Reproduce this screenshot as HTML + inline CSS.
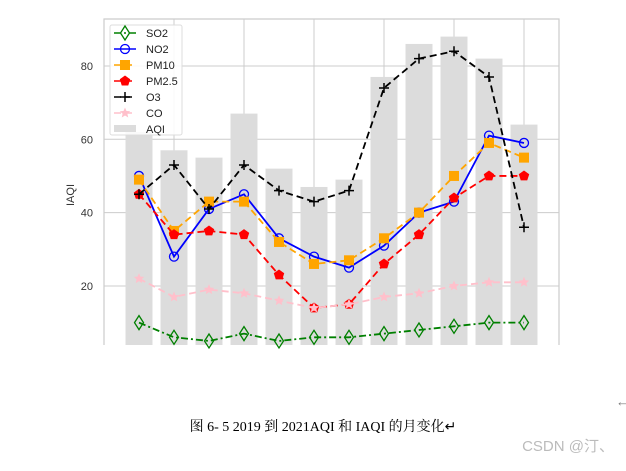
<!DOCTYPE html>
<html><head><meta charset="utf-8"><style>
body{margin:0;background:#fff;width:626px;height:466px;overflow:hidden;font-family:"Liberation Sans",sans-serif}
</style></head><body>
<svg id="chart" width="626" height="466" xmlns="http://www.w3.org/2000/svg" font-family="Liberation Sans, sans-serif">
<g id="grid"></g><g id="bars"></g><g id="lines"></g><g id="axes"></g><g id="legend"></g>
<text x="323" y="431" text-anchor="middle" font-size="14" font-family="Liberation Serif, Noto Serif CJK SC, serif" fill="#000">图 6- 5 2019 到 2021AQI 和 IAQI 的月变化↵</text>
<text x="616" y="406" font-size="13" fill="#777">←</text>
<text x="614" y="451" text-anchor="end" font-size="15" fill="#bbb" font-family="Liberation Sans, Noto Sans CJK SC, sans-serif">CSDN @汀、</text>
</svg>
<script>
const months=[1,2,3,4,5,6,7,8,9,10,11,12];
const aqi=[62,57,55,67,52,47,49,77,86,88,82,64];
const so2=[10,6,5,7,5,6,6,7,8,9,10,10];
const no2=[50,28,41,45,33,28,25,31,40,43,61,59];
const pm10=[49,35,43,43,32,26,27,33,40,50,59,55];
const pm25=[45,34,35,34,23,14,15,26,34,44,50,50];
const o3=[45,53,41,53,46,43,46,74,82,84,77,36];
const co=[22,17,19,18,16,14,15,17,18,20,21,21];
const yTicks=[20,40,60,80];
const NS="http://www.w3.org/2000/svg";
const L=104,R=559,T=19,B=345;
const xs=i=>139+i*35;
const ys=v=>359.3-v*3.667;
function mk(t,a,p){const e=document.createElementNS(NS,t);for(const k in a)e.setAttribute(k,a[k]);p.appendChild(e);return e;}
const grid=document.getElementById('grid'),bars=document.getElementById('bars'),lines=document.getElementById('lines'),axes=document.getElementById('axes'),leg=document.getElementById('legend');
yTicks.forEach(v=>{const g=mk('line',{x1:L,x2:R,y1:ys(v),y2:ys(v),stroke:'#ccc','stroke-width':1},grid);


const t=mk('text',{x:93,y:ys(v)+4,'text-anchor':'end','font-size':11,fill:'#333'},axes);t.textContent=v;

});
months.forEach((m,i)=>{if(i%2==1){const g=mk('line',{x1:xs(i),x2:xs(i),y1:T,y2:B,stroke:'#ccc'},grid);

}});
mk('path',{d:`M${L} ${B}V${T}H${R}V${B}`,fill:'none',stroke:'#ccc','stroke-width':1.2},axes);
const yl=mk('text',{x:0,y:0,transform:`translate(74,195) rotate(-90)`,'text-anchor':'middle','font-size':11,fill:'#333'},axes);yl.textContent='IAQI';


aqi.forEach((v,i)=>{const r=mk('rect',{x:xs(i)-13.5,y:ys(v),width:27,height:B-ys(v),fill:'#dcdcdc'},bars);

});
function marker(type,x,y,c,p){
 if(type=='d')return mk('path',{d:`M${x} ${y-7}L${x+4.5} ${y}L${x} ${y+7}L${x-4.5} ${y}Z`,fill:'none',stroke:c,'stroke-width':1.3},p);
 if(type=='o')return mk('circle',{cx:x,cy:y,r:4.5,fill:'none',stroke:c,'stroke-width':1.3},p);
 if(type=='s')return mk('rect',{x:x-5,y:y-5,width:10,height:10,fill:c},p);
 if(type=='p'){let d='';for(let k=0;k<5;k++){const a=-Math.PI/2+k*2*Math.PI/5;d+=(k?'L':'M')+(x+5.5*Math.cos(a))+' '+(y+5.5*Math.sin(a));}return mk('path',{d:d+'Z',fill:c},p);}
 if(type=='+')return mk('path',{d:`M${x-5} ${y}H${x+5}M${x} ${y-5}V${y+5}`,stroke:c,'stroke-width':1.5},p);
 if(type=='*'){let d='';for(let k=0;k<10;k++){const a=-Math.PI/2+k*Math.PI/5,rr=k%2?2.5:5.5;d+=(k?'L':'M')+(x+rr*Math.cos(a))+' '+(y+rr*Math.sin(a));}return mk('path',{d:d+'Z',fill:c},p);}
}
const series=[['SO2',so2,'green','7 3 2 3','d'],['NO2',no2,'blue','','o'],['PM10',pm10,'orange','7 4','s'],['PM2.5',pm25,'red','7 4','p'],['O3',o3,'black','7 4','+'],['CO',co,'pink','7 4','*']];
series.forEach(([n,arr,c,dash,m])=>{const g=mk('g',{},lines);


mk('polyline',{points:arr.map((v,i)=>xs(i)+','+ys(v)).join(' '),fill:'none',stroke:c,'stroke-width':1.8,'stroke-dasharray':dash},g);
arr.forEach((v,i)=>marker(m,xs(i),ys(v),c,g));});
mk('rect',{x:110,y:25,width:72,height:110,rx:2,fill:'#fff','fill-opacity':0.85,stroke:'#ddd'},leg);
series.forEach(([n,arr,c,dash,m],k)=>{const y=33+k*16;const g=mk('g',{},leg);


mk('line',{x1:114,x2:136,y1:y,y2:y,stroke:c,'stroke-width':1.6,'stroke-dasharray':dash},g);marker(m,125,y,c,g);
const t=mk('text',{x:146,y:y+4,'font-size':11,fill:'#222'},g);t.textContent=n;});
const g=mk('g',{},leg);


mk('rect',{x:114,y:125,width:22,height:7,fill:'#dcdcdc'},g);
const t=mk('text',{x:146,y:133,'font-size':11,fill:'#222'},g);t.textContent='AQI';
</script>
</body></html>
